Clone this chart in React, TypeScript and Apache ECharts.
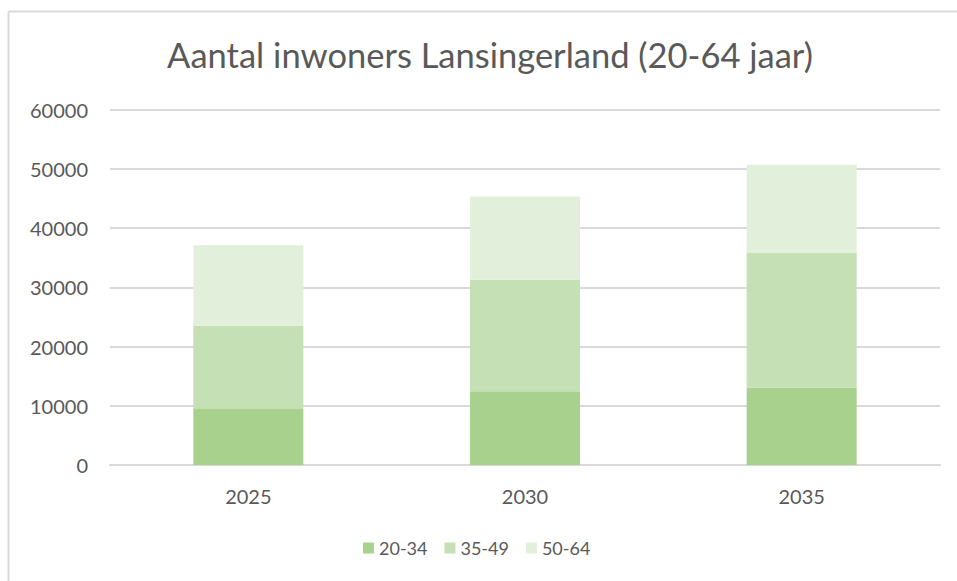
import React, { useEffect, useRef } from "react";
import * as echarts from "echarts";

const categories = ["2025", "2030", "2035"];
const seriesNames = ["20-34", "35-49", "50-64"];
const age2034 = [9450, 12450, 13070];
const age3549 = [14050, 18830, 22710];
const age5064 = [13600, 14050, 14890];
const colors = ["#a9d18e", "#c5e0b4", "#e2efda"];
const titleText = "Aantal inwoners Lansingerland (20-64 jaar)";

const FONT = "Lato, 'Open Sans', sans-serif";

export default function App() {
  const ref = useRef<HTMLDivElement>(null);
  useEffect(() => {
    if (!ref.current) return;
    document.body.style.margin = "0";
    document.documentElement.style.overflow = "hidden";
    document.body.style.overflow = "hidden";
    const chart = echarts.init(ref.current, undefined, { renderer: "svg" });
    const values = [age2034, age3549, age5064];
    chart.setOption({
      animation: false,
      backgroundColor: "#ffffff",
      textStyle: { fontFamily: FONT },
      graphic: [
        {
          type: "line",
          shape: { x1: 8.5, y1: 11.5, x2: 960, y2: 11.5 },
          style: { stroke: "#d9d9d9", lineWidth: 2 },
          silent: true,
          z: -1,
        },
        {
          type: "line",
          shape: { x1: 8.5, y1: 11.5, x2: 8.5, y2: 600 },
          style: { stroke: "#d9d9d9", lineWidth: 2 },
          silent: true,
          z: -1,
        },
        {
          type: "text",
          x: 490,
          y: 54,
          style: {
            text: titleText,
            textAlign: "center",
            textVerticalAlign: "middle",
            fontFamily: FONT,
            fontSize: 34.5,
            fill: "#595959",
          },
        },
      ],
      grid: { left: 110, right: 17, top: 109.5, bottom: 116, containLabel: false },
      legend: {
        data: seriesNames,
        bottom: 19,
        left: 358,
        itemWidth: 11,
        itemHeight: 11,
        itemGap: 17,
        icon: "rect",
        textStyle: { color: "#595959", fontSize: 18, fontFamily: FONT },
      },
      xAxis: {
        type: "category",
        data: categories,
        axisLine: { show: true, lineStyle: { color: "#d9d9d9", width: 2 } },
        axisTick: { show: false },
        axisLabel: { color: "#595959", fontSize: 20, margin: 21, fontFamily: FONT },
      },
      yAxis: {
        type: "value",
        min: 0,
        max: 60000,
        interval: 10000,
        axisLine: { show: false },
        axisTick: { show: false },
        splitLine: { lineStyle: { color: "#d9d9d9", width: 2 } },
        axisLabel: {
          color: "#595959",
          fontSize: 20,
          margin: 22,
          fontFamily: FONT,
          formatter: (v: number) => String(v),
        },
      },
      series: seriesNames.map((name, i) => ({
        name,
        type: "bar",
        stack: "total",
        barWidth: 110,
        data: values[i],
        itemStyle: { color: colors[i] },
      })),
    });
    return () => chart.dispose();
  }, []);
  return <div ref={ref} style={{ width: 957, height: 581 }} />;
}
